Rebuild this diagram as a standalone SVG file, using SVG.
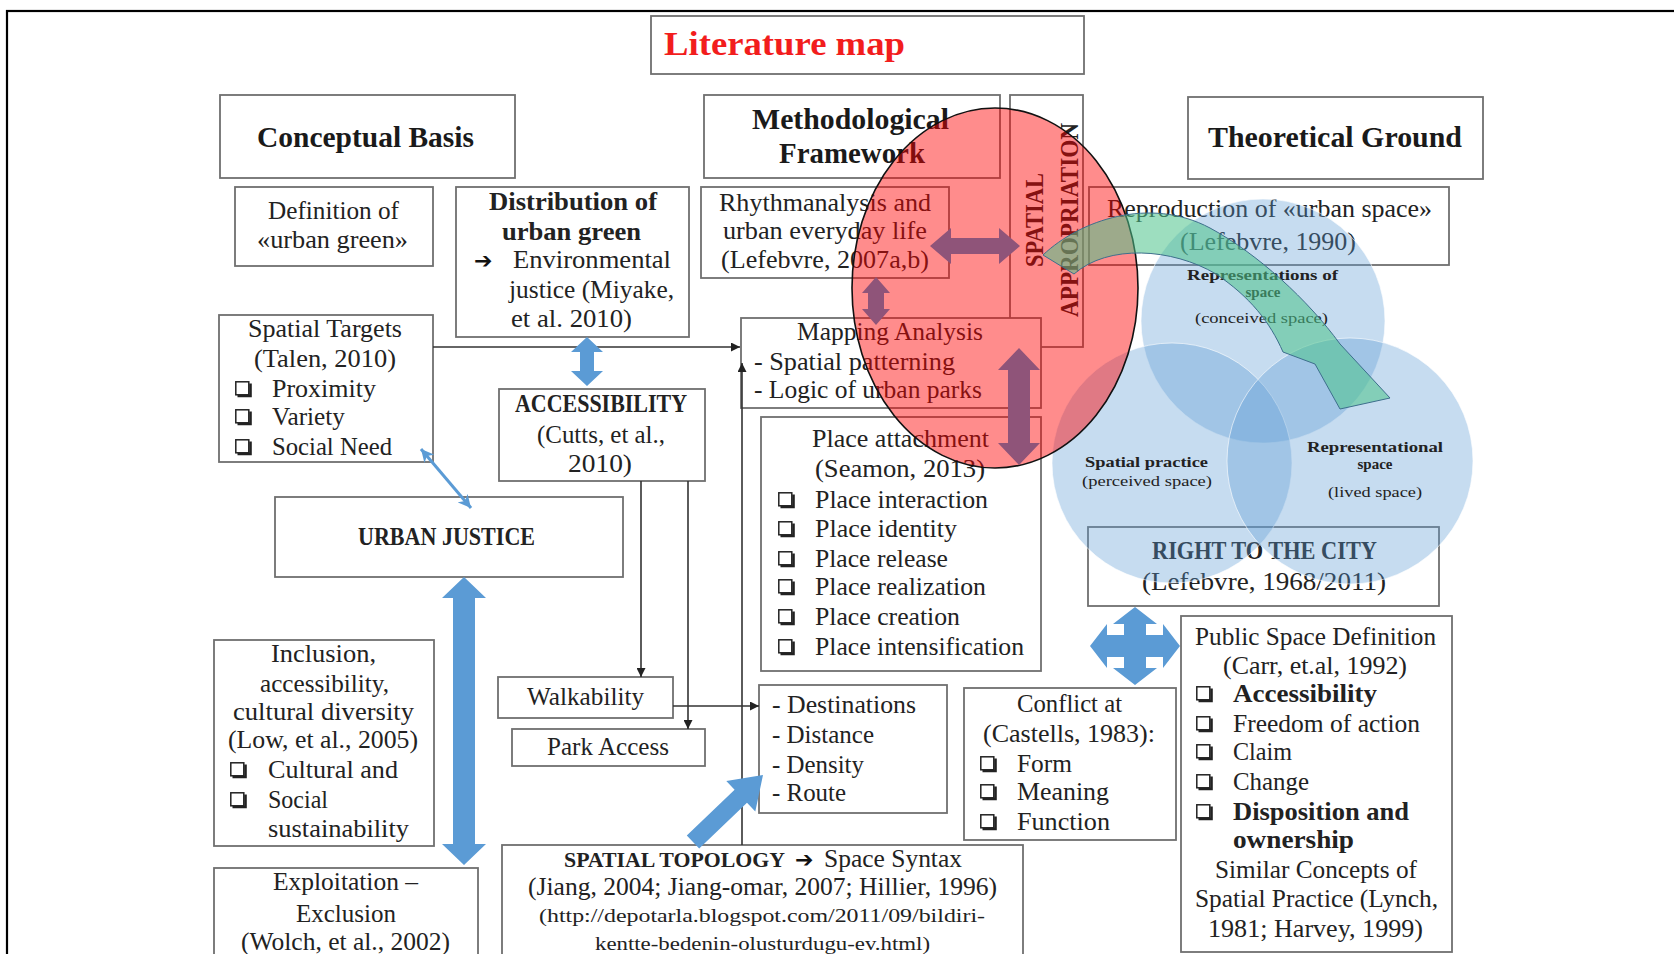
<svg xmlns="http://www.w3.org/2000/svg" width="1674" height="954" viewBox="0 0 1674 954">
<style>
.bx{fill:#fff;stroke:#6f6f6f;stroke-width:1.8}
.t{font-family:"Liberation Serif","Times New Roman",serif;font-size:25px;fill:#222}
.b{font-weight:bold}
.h{font-family:"Liberation Serif","Times New Roman",serif;font-size:29.5px;font-weight:bold;fill:#1a1a1a}
.s{font-family:"Liberation Serif","Times New Roman",serif;font-size:19px;fill:#222}
.v{font-family:"Liberation Serif","Times New Roman",serif;font-size:15px;fill:#222}
.ar{font-family:"DejaVu Sans",sans-serif;font-size:22px;font-weight:bold;fill:#111}
.ln{fill:none;stroke:#333;stroke-width:1.6}
.blue{fill:#5b9bd5}
.pur{fill:#8f5479}
.venn{fill:#5b9bd5;fill-opacity:0.35;stroke:#fff;stroke-opacity:0.6;stroke-width:1}
</style>
<defs>
<marker id="ah" viewBox="0 0 10 10" refX="10" refY="5" markerWidth="9" markerHeight="9" markerUnits="userSpaceOnUse" orient="auto"><path d="M0,0 L10,5 L0,10 z" fill="#222"/></marker>
<marker id="bh" viewBox="0 0 10 10" refX="10" refY="5" markerWidth="13" markerHeight="13" markerUnits="userSpaceOnUse" orient="auto-start-reverse"><path d="M0,0 L10,5 L0,10 L3,5 z" fill="#5b9bd5"/></marker>
<g id="cb"><rect x="0.8" y="0.8" width="13" height="13" fill="#fff" stroke="#222" stroke-width="1.5"/><path d="M2.5,15 H15.5 V2.5" fill="none" stroke="#222" stroke-width="2.6"/></g>
</defs>
<rect x="0" y="0" width="1674" height="954" fill="#fff"/>
<rect x="7" y="11" width="1700" height="1000" fill="none" stroke="#000" stroke-width="2.2"/>

<g id="title"><rect class="bx" x="651" y="16" width="433" height="58"/><text x="664" y="55" font-family="Liberation Serif,serif" font-size="33" font-weight="bold" fill="#f21d1d" textLength="241" lengthAdjust="spacingAndGlyphs">Literature map</text></g>

<g id="conceptual-basis"><rect class="bx" x="220" y="95" width="295" height="83"/><text class="h" x="257" y="147" textLength="217" lengthAdjust="spacingAndGlyphs">Conceptual Basis</text></g>
<g id="methodological-framework"><rect class="bx" x="704" y="95" width="296" height="83"/><text class="h" x="752" y="129" textLength="197" lengthAdjust="spacingAndGlyphs">Methodological</text><text class="h" x="779" y="163" textLength="146" lengthAdjust="spacingAndGlyphs">Framework</text></g>
<g id="spatial-appropriation"><rect class="bx" x="1010" y="95" width="73" height="252"/>
<text class="t b" font-size="22" transform="translate(1043,220) rotate(-90)" x="-47" y="0" textLength="94" lengthAdjust="spacingAndGlyphs">SPATIAL</text>
<text class="t b" font-size="22" transform="translate(1078,220) rotate(-90)" x="-97" y="0" textLength="194" lengthAdjust="spacingAndGlyphs">APPROPRIATION</text></g>
<g id="theoretical-ground"><rect class="bx" x="1188" y="97" width="295" height="82"/><text class="h" x="1208" y="147" textLength="254" lengthAdjust="spacingAndGlyphs">Theoretical Ground</text></g>

<g id="definition"><rect class="bx" x="235" y="187" width="198" height="79"/><text class="t" x="268" y="219" textLength="131" lengthAdjust="spacingAndGlyphs">Definition of</text><text class="t" x="257" y="248" textLength="151" lengthAdjust="spacingAndGlyphs">«urban green»</text></g>
<g id="distribution"><rect class="bx" x="456" y="187" width="233" height="150"/>
<text class="t b" x="489" y="210" textLength="168" lengthAdjust="spacingAndGlyphs">Distribution of</text>
<text class="t b" x="502" y="240" textLength="139" lengthAdjust="spacingAndGlyphs">urban green</text>
<text class="t" x="474" y="268"><tspan class="ar">➔</tspan><tspan x="513" textLength="158" lengthAdjust="spacingAndGlyphs">Environmental</tspan></text>
<text class="t" x="509" y="298" textLength="165" lengthAdjust="spacingAndGlyphs">justice (Miyake,</text>
<text class="t" x="511" y="327" textLength="121" lengthAdjust="spacingAndGlyphs">et al. 2010)</text></g>
<g id="rhythmanalysis"><rect class="bx" x="701" y="187" width="248" height="91"/>
<text class="t" x="719" y="211" textLength="212" lengthAdjust="spacingAndGlyphs">Rhythmanalysis and</text>
<text class="t" x="723" y="239" textLength="204" lengthAdjust="spacingAndGlyphs">urban everyday life</text>
<text class="t" x="721" y="268" textLength="208" lengthAdjust="spacingAndGlyphs">(Lefebvre, 2007a,b)</text></g>
<g id="reproduction"><rect class="bx" x="1089" y="187" width="360" height="78"/>
<text class="t" x="1107" y="217" textLength="325" lengthAdjust="spacingAndGlyphs">Reproduction of «urban space»</text>
<text class="t" x="1180" y="250" textLength="176" lengthAdjust="spacingAndGlyphs">(Lefebvre, 1990)</text></g>

<g id="spatial-targets"><rect class="bx" x="219" y="315" width="214" height="147"/>
<text class="t" x="248" y="337" textLength="154" lengthAdjust="spacingAndGlyphs">Spatial Targets</text>
<text class="t" x="254" y="367" textLength="142" lengthAdjust="spacingAndGlyphs">(Talen, 2010)</text>
<use href="#cb" x="235" y="381"/><text class="t" x="272" y="397" textLength="104" lengthAdjust="spacingAndGlyphs">Proximity</text>
<use href="#cb" x="235" y="409"/><text class="t" x="272" y="425" textLength="73" lengthAdjust="spacingAndGlyphs">Variety</text>
<use href="#cb" x="235" y="439"/><text class="t" x="272" y="455" textLength="120" lengthAdjust="spacingAndGlyphs">Social Need</text></g>

<g id="mapping-analysis"><rect class="bx" x="741" y="318" width="300" height="90"/>
<text class="t" x="797" y="340" textLength="186" lengthAdjust="spacingAndGlyphs">Mapping Analysis</text>
<text class="t" x="754" y="370" textLength="201" lengthAdjust="spacingAndGlyphs">- Spatial patterning</text>
<text class="t" x="754" y="398" textLength="228" lengthAdjust="spacingAndGlyphs">- Logic of urban parks</text></g>

<g id="accessibility"><rect class="bx" x="499" y="389" width="206" height="92"/>
<text class="t b" x="515" y="412" textLength="172" lengthAdjust="spacingAndGlyphs">ACCESSIBILITY</text>
<text class="t" x="537" y="443" textLength="128" lengthAdjust="spacingAndGlyphs">(Cutts, et al.,</text>
<text class="t" x="568" y="472" textLength="64" lengthAdjust="spacingAndGlyphs">2010)</text></g>

<g id="place-attachment"><rect class="bx" x="761" y="417" width="280" height="254"/>
<text class="t" x="812" y="447" textLength="177" lengthAdjust="spacingAndGlyphs">Place attachment</text>
<text class="t" x="815" y="477" textLength="170" lengthAdjust="spacingAndGlyphs">(Seamon, 2013)</text>
<use href="#cb" x="778" y="492"/><text class="t" x="815" y="508" textLength="173" lengthAdjust="spacingAndGlyphs">Place interaction</text>
<use href="#cb" x="778" y="521"/><text class="t" x="815" y="537" textLength="142" lengthAdjust="spacingAndGlyphs">Place identity</text>
<use href="#cb" x="778" y="551"/><text class="t" x="815" y="567" textLength="133" lengthAdjust="spacingAndGlyphs">Place release</text>
<use href="#cb" x="778" y="579"/><text class="t" x="815" y="595" textLength="171" lengthAdjust="spacingAndGlyphs">Place realization</text>
<use href="#cb" x="778" y="609"/><text class="t" x="815" y="625" textLength="145" lengthAdjust="spacingAndGlyphs">Place creation</text>
<use href="#cb" x="778" y="639"/><text class="t" x="815" y="655" textLength="209" lengthAdjust="spacingAndGlyphs">Place intensification</text></g>

<g id="urban-justice"><rect class="bx" x="275" y="497" width="348" height="80"/><text class="t b" x="358" y="545" textLength="177" lengthAdjust="spacingAndGlyphs">URBAN JUSTICE</text></g>

<g id="right-to-the-city"><rect class="bx" x="1088" y="527" width="351" height="79"/>
<text class="t b" x="1152" y="559" textLength="225" lengthAdjust="spacingAndGlyphs">RIGHT TO THE CITY</text>
<text class="t" x="1142" y="590" textLength="244" lengthAdjust="spacingAndGlyphs">(Lefebvre, 1968/2011)</text></g>

<g id="inclusion"><rect class="bx" x="214" y="640" width="220" height="206"/>
<text class="t" x="271" y="662" textLength="105" lengthAdjust="spacingAndGlyphs">Inclusion,</text>
<text class="t" x="260" y="692" textLength="129" lengthAdjust="spacingAndGlyphs">accessibility,</text>
<text class="t" x="233" y="720" textLength="181" lengthAdjust="spacingAndGlyphs">cultural diversity</text>
<text class="t" x="228" y="748" textLength="190" lengthAdjust="spacingAndGlyphs">(Low, et al., 2005)</text>
<use href="#cb" x="230" y="762"/><text class="t" x="268" y="778" textLength="130" lengthAdjust="spacingAndGlyphs">Cultural and</text>
<use href="#cb" x="230" y="792"/><text class="t" x="268" y="808" textLength="60" lengthAdjust="spacingAndGlyphs">Social</text>
<text class="t" x="268" y="837" textLength="141" lengthAdjust="spacingAndGlyphs">sustainability</text></g>

<g id="exploitation"><rect class="bx" x="214" y="868" width="264" height="120"/>
<text class="t" x="273" y="890" textLength="145" lengthAdjust="spacingAndGlyphs">Exploitation –</text>
<text class="t" x="296" y="922" textLength="100" lengthAdjust="spacingAndGlyphs">Exclusion</text>
<text class="t" x="241" y="950" textLength="209" lengthAdjust="spacingAndGlyphs">(Wolch, et al., 2002)</text></g>

<g id="walkability"><rect class="bx" x="498" y="677" width="175" height="41"/><text class="t" x="527" y="705" textLength="117" lengthAdjust="spacingAndGlyphs">Walkability</text></g>
<g id="park-access"><rect class="bx" x="512" y="729" width="193" height="37"/><text class="t" x="547" y="755" textLength="122" lengthAdjust="spacingAndGlyphs">Park Access</text></g>

<g id="destinations"><rect class="bx" x="759" y="685" width="188" height="128"/>
<text class="t" x="772" y="713" textLength="144" lengthAdjust="spacingAndGlyphs">- Destinations</text>
<text class="t" x="772" y="743" textLength="102" lengthAdjust="spacingAndGlyphs">- Distance</text>
<text class="t" x="772" y="773" textLength="92" lengthAdjust="spacingAndGlyphs">- Density</text>
<text class="t" x="772" y="801" textLength="74" lengthAdjust="spacingAndGlyphs">- Route</text></g>

<g id="conflict"><rect class="bx" x="964" y="688" width="212" height="152"/>
<text class="t" x="1017" y="712" textLength="105" lengthAdjust="spacingAndGlyphs">Conflict at</text>
<text class="t" x="983" y="742" textLength="172" lengthAdjust="spacingAndGlyphs">(Castells, 1983):</text>
<use href="#cb" x="980" y="756"/><text class="t" x="1017" y="772" textLength="55" lengthAdjust="spacingAndGlyphs">Form</text>
<use href="#cb" x="980" y="784"/><text class="t" x="1017" y="800" textLength="92" lengthAdjust="spacingAndGlyphs">Meaning</text>
<use href="#cb" x="980" y="814"/><text class="t" x="1017" y="830" textLength="93" lengthAdjust="spacingAndGlyphs">Function</text></g>

<g id="public-space"><rect class="bx" x="1181" y="616" width="271" height="336"/>
<text class="t" x="1195" y="645" textLength="241" lengthAdjust="spacingAndGlyphs">Public Space Definition</text>
<text class="t" x="1223" y="674" textLength="184" lengthAdjust="spacingAndGlyphs">(Carr, et.al, 1992)</text>
<use href="#cb" x="1196" y="686"/><text class="t b" x="1233" y="702" textLength="144" lengthAdjust="spacingAndGlyphs">Accessibility</text>
<use href="#cb" x="1196" y="716"/><text class="t" x="1233" y="732" textLength="187" lengthAdjust="spacingAndGlyphs">Freedom of action</text>
<use href="#cb" x="1196" y="744"/><text class="t" x="1233" y="760" textLength="59" lengthAdjust="spacingAndGlyphs">Claim</text>
<use href="#cb" x="1196" y="774"/><text class="t" x="1233" y="790" textLength="76" lengthAdjust="spacingAndGlyphs">Change</text>
<use href="#cb" x="1196" y="804"/><text class="t b" x="1233" y="820" textLength="176" lengthAdjust="spacingAndGlyphs">Disposition and</text>
<text class="t b" x="1233" y="848" textLength="121" lengthAdjust="spacingAndGlyphs">ownership</text>
<text class="t" x="1215" y="878" textLength="202" lengthAdjust="spacingAndGlyphs">Similar Concepts of</text>
<text class="t" x="1195" y="907" textLength="243" lengthAdjust="spacingAndGlyphs">Spatial Practice (Lynch,</text>
<text class="t" x="1208" y="937" textLength="215" lengthAdjust="spacingAndGlyphs">1981; Harvey, 1999)</text></g>

<g id="spatial-topology"><rect class="bx" x="502" y="845" width="521" height="130"/>
<text class="t" x="564" y="867"><tspan class="b" font-size="21" textLength="221" lengthAdjust="spacingAndGlyphs">SPATIAL TOPOLOGY</tspan><tspan class="ar" x="795">➔</tspan><tspan x="824" textLength="138" lengthAdjust="spacingAndGlyphs">Space Syntax</tspan></text>
<text class="t" x="528" y="895" textLength="469" lengthAdjust="spacingAndGlyphs">(Jiang, 2004; Jiang-omar, 2007; Hillier, 1996)</text>
<text class="s" x="539" y="922" textLength="446" lengthAdjust="spacingAndGlyphs">(http://depotarla.blogspot.com/2011/09/bildiri-</text>
<text class="s" x="595" y="950" textLength="335" lengthAdjust="spacingAndGlyphs">kentte-bedenin-olusturdugu-ev.html)</text></g>

<g id="connectors">
<path class="ln" d="M433,347 H740" marker-end="url(#ah)"/>
<path class="ln" d="M742,845 V363" marker-end="url(#ah)"/>
<path class="ln" d="M641,481 V677" marker-end="url(#ah)"/>
<path class="ln" d="M688,481 V729" marker-end="url(#ah)"/>
<path class="ln" d="M673,706 H759" marker-end="url(#ah)"/>
<path d="M421,449 L471,508" fill="none" stroke="#5b9bd5" stroke-width="3" marker-start="url(#bh)" marker-end="url(#bh)"/>
<polygon class="blue" points="587,337 603,352 594,352 594,371 603,371 587,386 571,371 580,371 580,352 571,352"/>
<polygon class="blue" points="464,577 486,598 475,598 475,844 486,844 464,865 442,844 453,844 453,598 442,598"/>
<polygon class="blue" points="699.2,848.5 747,802.8 755.3,811.5 763,775 726.3,781.1 734.6,789.8 686.8,835.5"/>
<polygon class="blue" points="1135,607 1157,624 1146,624 1146,635 1163,635 1163,624 1180,646 1163,668 1163,657 1146,657 1146,668 1157,668 1135,685 1113,668 1124,668 1124,657 1107,657 1107,668 1090,646 1107,624 1107,635 1124,635 1124,624 1113,624"/>
</g>

<g id="venn">
<circle class="venn" cx="1263" cy="321" r="122"/>
<circle class="venn" cx="1172" cy="463" r="120"/>
<circle class="venn" cx="1350" cy="461" r="123"/>
<text class="v b" x="1187" y="280" textLength="151" lengthAdjust="spacingAndGlyphs">Representations of</text>
<text class="v b" x="1263" y="297" text-anchor="middle">space</text>
<text class="v" x="1195" y="323" textLength="133" lengthAdjust="spacingAndGlyphs">(conceived space)</text>
<text class="v b" x="1085" y="467" textLength="123" lengthAdjust="spacingAndGlyphs">Spatial practice</text>
<text class="v" x="1082" y="486" textLength="130" lengthAdjust="spacingAndGlyphs">(perceived  space)</text>
<text class="v b" x="1307" y="452" textLength="136" lengthAdjust="spacingAndGlyphs">Representational</text>
<text class="v b" x="1375" y="469" text-anchor="middle">space</text>
<text class="v" x="1328" y="497" textLength="94" lengthAdjust="spacingAndGlyphs">(lived space)</text>
</g>

<g id="appropriation-ellipse">
<ellipse cx="995" cy="288" rx="143" ry="180" fill="#ff0000" fill-opacity="0.45" stroke="#111" stroke-width="1.6"/>
<polygon class="pur" points="930,246 951,228 951,238 999,238 999,228 1020,246 999,264 999,254 951,254 951,264"/>
<polygon class="pur" points="876,277 890,293 884,293 884,309 890,309 876,325 862,309 868,309 868,293 862,293"/>
<polygon class="pur" points="1019,348 1040,370 1030,370 1030,443 1040,443 1019,465 998,443 1008,443 1008,370 998,370"/>
</g>

<g id="green-arrow">
<path d="M1043,255 C1080,220 1150,196 1210,228 C1258,254 1308,300 1340,344 L1390,398 L1340,409 L1315,364 L1283,352 C1270,322 1250,297 1216,274 C1172,248 1108,244 1074,274 Z" fill="#4cc38a" fill-opacity="0.55" stroke="#3d6f8c" stroke-width="1"/>
</g>
</svg>
